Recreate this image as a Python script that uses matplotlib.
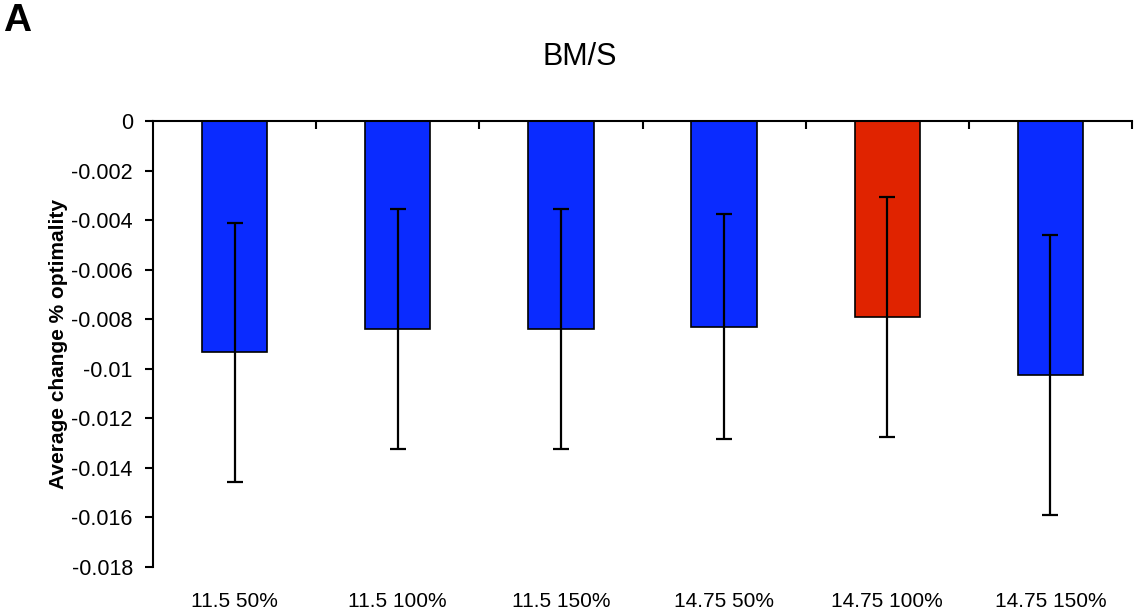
import numpy as np
import matplotlib
matplotlib.use('Agg')
import matplotlib.pyplot as plt

plt.rcParams['font.family'] = ['Liberation Sans', 'DejaVu Sans']

# values
labels = ['11.5 50%', '11.5 100%', '11.5 150%', '14.75 50%', '14.75 100%', '14.75 150%']
means = [-0.00933, -0.00840, -0.00840, -0.00830, -0.00791, -0.01025]
errors = [0.00522, 0.00485, 0.00485, 0.00455, 0.00484, 0.00565]
colors = ['#0A2BFF', '#0A2BFF', '#0A2BFF', '#0A2BFF', '#E02300', '#0A2BFF']

fig = plt.figure(figsize=(11.35, 6.16), dpi=100)
ax = fig.add_axes([153 / 1135, 1 - 567 / 616, (1132 - 153) / 1135, (567 - 121) / 616])

x = np.arange(len(labels)) + 0.5
ax.bar(x, means, width=0.4, color=colors, edgecolor='black', linewidth=1.2, zorder=2)
ax.errorbar(x, means, yerr=errors, fmt='none', ecolor='black', elinewidth=1.6,
            capsize=5.5, capthick=1.6, zorder=3)

ax.set_xlim(0, len(labels))
ax.set_ylim(-0.018, 0)

# zero line on top, category boundaries marked with inward ticks
for side in ['right', 'bottom']:
    ax.spines[side].set_visible(False)
ax.spines['top'].set_linewidth(1.5)
ax.spines['left'].set_linewidth(1.5)

ax.xaxis.set_ticks_position('top')
ax.set_xticks(np.arange(1, len(labels) + 1))
ax.tick_params(axis='x', which='major', direction='in', length=6, width=1.5, labeltop=False)
ax.set_xticks(x, minor=True)
ax.set_xticklabels(labels, minor=True)
ax.tick_params(axis='x', which='minor', length=0, top=False, bottom=True,
               labelbottom=True, labeltop=False, labelsize=15, pad=18)

yticks = np.arange(0, -0.0181, -0.002)
ax.set_yticks(yticks)
ax.set_yticklabels(['0' if abs(v) < 1e-12 else ('%g' % round(v, 3)) for v in yticks])
ax.tick_params(axis='y', direction='out', length=6, width=1.5, labelsize=15.5, pad=8.5)

ax.set_ylabel('Average change % optimality', fontsize=15, fontweight='bold')
ax.yaxis.set_label_coords(-0.087, 0.5)

fig.text(580 / 1135, 1 - 57 / 616, 'BM/S', fontsize=22, ha='center', va='center')
fig.text(3 / 1135, 1 - 3 / 616, 'A', fontsize=28, fontweight='bold', ha='left', va='top')

fig.savefig('out.png', dpi=100)
